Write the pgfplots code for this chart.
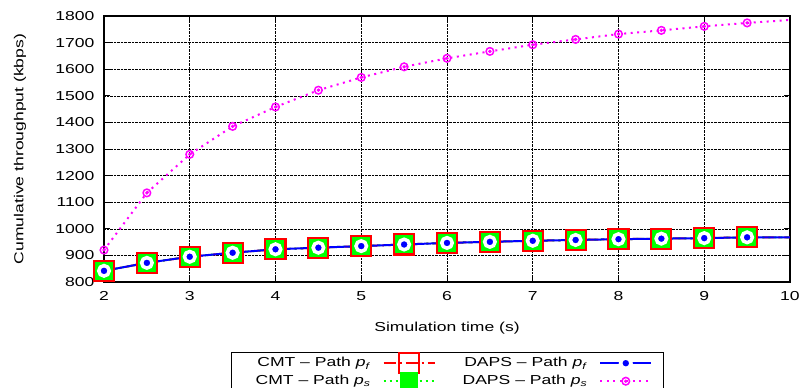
\documentclass[border=0pt]{standalone}
\usepackage{pgfplots}
\pgfplotsset{compat=1.18}
\usepackage{pgfplotstable}
\usepackage{fontspec}
\setmainfont{Liberation Sans}[FakeStretch=1.35]
\definecolor{gpred}{RGB}{255,0,0}
\definecolor{gpgreen}{RGB}{0,255,0}
\definecolor{gpblue}{RGB}{0,0,255}
\definecolor{gpmag}{RGB}{255,0,255}
\pgfdeclareplotmark{odot}{%
  \pgfpathcircle{\pgfpointorigin}{\pgfplotmarksize}\pgfusepathqstroke
  \pgfpathcircle{\pgfpointorigin}{0.22\pgfplotmarksize}\pgfusepathqfillstroke}
\pgfplotstableread{
x low high
2 842 920
2.5 872 1135
3 895 1280
3.5 910 1385
4 923 1458
4.5 929 1521
5 935 1569
5.5 941 1609
6 947 1641
6.5 951 1667
7 955 1692
7.5 958 1712
8 961 1732
8.5 963 1746
9 965 1761
9.5 968 1774
10 968 1785
}\datatab
\begin{document}
\fontsize{13bp}{15bp}\selectfont
\begin{tikzpicture}
\useasboundingbox (-104bp,-106bp) rectangle (699bp,282bp);
\begin{axis}[
  scale only axis, width=686bp, height=266bp,
  xmin=2, xmax=10, ymin=800, ymax=1800,
  xtick={2,...,10}, ytick={800,900,...,1800},
  /pgf/number format/1000 sep={},
  /pgf/number format/assume math mode=true,
  tick label style={font=\fontsize{13bp}{15bp}\selectfont},
  xticklabel style={yshift=-5bp},
  yticklabel style={xshift=-5bp},
  label style={font=\fontsize{13bp}{15bp}\selectfont},
  grid=major,
  major grid style={black, densely dotted, line width=0.6bp},
  axis line style={line width=1.2bp},
  tick style={black, line width=0.8bp},
  major tick length=6bp,
  clip=false,
  xlabel={Simulation time (s)},
  ylabel={Cumulative throughput (kbps)},
  xlabel style={at={(axis description cs:0.5,-0.173)}, anchor=center},
  ylabel style={at={(axis description cs:-0.1224,0.5)}, anchor=center},
  legend columns=2, transpose legend,
  legend plot pos=right, legend cell align=right,
  legend style={at={(axis description cs:0.5,-0.2632)}, anchor=north,
    draw=black, inner xsep=11bp, inner ysep=1bp, row sep=0bp,
    nodes={inner xsep=0bp, inner ysep=0.5bp},
    font=\fontsize{13bp}{13bp}\selectfont,
    /tikz/every odd column/.style={column sep=12bp},
    /tikz/every even column/.style={column sep=27bp}},
  legend image code/.code={\draw[mark repeat=2,mark phase=2,#1,mark indices={2}] plot coordinates {(0bp,0bp) (25.5bp,0bp) (51bp,0bp)};},
]
\addplot[gpred, line width=2bp, dash pattern=on 12bp off 4bp on 2bp off 4bp, mark=square, mark indices={1,...,16}, mark size=10bp, mark options={solid, line width=2.2bp}] table[x=x,y=low]{\datatab};
\addlegendentry{\hspace*{14bp}CMT -- Path \textit{p}\textsubscript{\textit{f}}}
\addplot[gpgreen, line width=2bp, dash pattern=on 2bp off 4bp, mark=square*, mark indices={1,...,16}, mark size=8bp, mark options={solid}] table[x=x,y=low]{\datatab};
\addlegendentry{\hspace*{14bp}CMT -- Path \textit{p}\textsubscript{\textit{s}}}
\addplot[gpblue, line width=2bp, mark=*, mark indices={1,...,16}, mark size=5.25bp, mark options={draw=white, fill=gpblue, line width=3.5bp}] table[x=x,y=low]{\datatab};
\addlegendentry{DAPS -- Path \textit{p}\textsubscript{\textit{f}}}
\addplot[gpmag, line width=2bp, dash pattern=on 2bp off 4.5bp, mark=odot, mark indices={1,...,16}, mark size=3.8bp, mark options={solid, line width=1.5bp}] table[x=x,y=high]{\datatab};
\addlegendentry{DAPS -- Path \textit{p}\textsubscript{\textit{s}}}
\end{axis}
\end{tikzpicture}
\end{document}
